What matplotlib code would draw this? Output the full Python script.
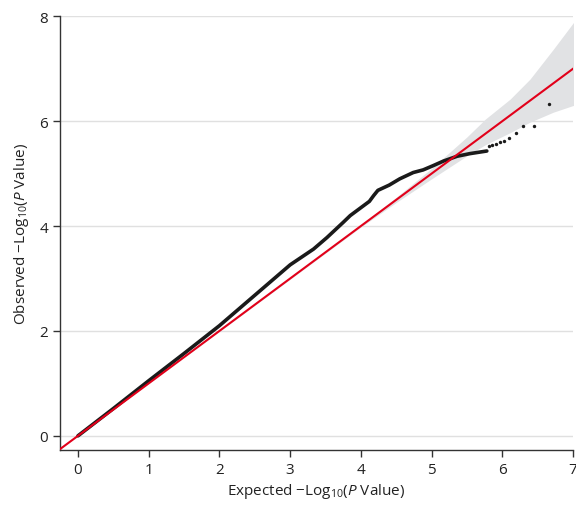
import numpy as np
import matplotlib
matplotlib.use("Agg")
import matplotlib.pyplot as plt

plt.rcParams["font.family"] = ["Open Sans", "DejaVu Sans"]
plt.rcParams["mathtext.fontset"] = "custom"
plt.rcParams["mathtext.rm"] = "Open Sans"
plt.rcParams["mathtext.it"] = "Open Sans:italic"

# observed vs expected -log10(P), dense part of the curve
exp_dense = [0.0, 0.5, 1.0, 1.5, 2.0, 2.5, 3.0, 3.33, 3.52, 3.75, 3.85, 4.04,
             4.12, 4.18, 4.24, 4.4, 4.55, 4.74, 4.88, 5.02, 5.17, 5.36, 5.54, 5.78]
obs_dense = [0.0, 0.52, 1.05, 1.57, 2.1, 2.68, 3.26, 3.56, 3.78, 4.07, 4.20, 4.39,
             4.47, 4.58, 4.68, 4.78, 4.9, 5.02, 5.07, 5.15, 5.24, 5.33, 5.38, 5.43]

# sparse tail points
exp_tail = [5.81, 5.85, 5.91, 5.97, 6.02, 6.10, 6.19, 6.29, 6.45, 6.66]
obs_tail = [5.52, 5.54, 5.56, 5.60, 5.62, 5.68, 5.77, 5.90, 5.90, 6.32]

# 95% confidence band
band_x = [0.0, 4.0, 4.5, 5.0, 5.5, 5.76, 6.11, 6.39, 6.72, 7.05]
band_hi = [0.0, 4.02, 4.55, 5.1, 5.7, 6.04, 6.42, 6.8, 7.37, 7.96]
band_lo = [0.0, 3.98, 4.45, 4.9, 5.34, 5.55, 5.78, 5.98, 6.17, 6.32]

fig = plt.figure(figsize=(5.76, 5.06), dpi=100)
ax = fig.add_axes([0.104, 0.109, 0.891, 0.857])

ax.fill_between(band_x, band_lo, band_hi, color="#e1e2e4", lw=0, zorder=1)
ax.plot(exp_dense, obs_dense, color="#1a1a1a", lw=2.6, solid_capstyle="round",
        solid_joinstyle="round", zorder=3)
ax.scatter(exp_tail, obs_tail, s=6, color="#1a1a1a", lw=0, zorder=3)
ax.axline((0, 0), slope=1, color="#e2001a", lw=1.5, zorder=4)

ax.set_xlim(-0.255, 7)
ax.set_ylim(-0.267, 8)
ax.set_xticks(range(0, 8))
ax.set_yticks([0, 2, 4, 6, 8])
ax.grid(axis="y", color="#e0e0e0", lw=1)
ax.set_axisbelow(True)
for s in ["top", "right"]:
    ax.spines[s].set_visible(False)
for s in ["left", "bottom"]:
    ax.spines[s].set_color("#333333")
    ax.spines[s].set_linewidth(1.0)
ax.tick_params(direction="out", length=5, width=1, color="#333333",
               labelsize=11, labelcolor="#222222")

ax.set_xlabel(r"Expected −Log$_{10}$($\it{P}$ Value)", fontsize=11, color="#222222", labelpad=3)
ax.set_ylabel(r"Observed −Log$_{10}$($\it{P}$ Value)", fontsize=11, color="#222222", labelpad=6)

fig.savefig("out.png", dpi=100)
